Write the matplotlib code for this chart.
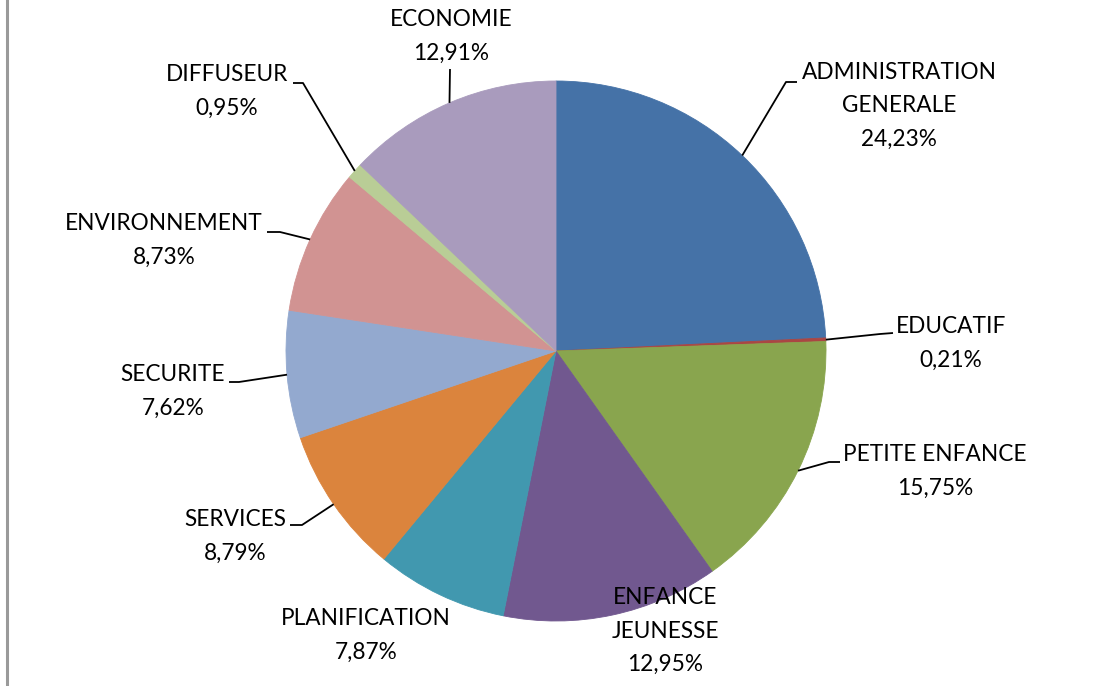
import numpy as np
import matplotlib.pyplot as plt

plt.rcParams['font.family'] = ['Lato', 'DejaVu Sans']

categories = ["ADMINISTRATION\nGENERALE", "EDUCATIF", "PETITE ENFANCE", "ENFANCE\nJEUNESSE",
              "PLANIFICATION", "SERVICES", "SECURITE", "ENVIRONNEMENT", "DIFFUSEUR", "ECONOMIE"]
shares = [24.23, 0.21, 15.75, 12.95, 7.87, 8.79, 7.62, 8.73, 0.95, 12.91]
share_labels = ["24,23%", "0,21%", "15,75%", "12,95%", "7,87%", "8,79%", "7,62%", "8,73%", "0,95%", "12,91%"]
colors = ["#4572A7", "#AA4643", "#89A54E", "#71588F", "#4198AF",
          "#DB843D", "#93A9CF", "#D19392", "#B9CD96", "#A99BBD"]

W, H = 1097, 686
cx, cy, R = 556, H - 351, 270

# label centres (pixels from top-left)
label_pos = [(899, 106), (951, 343), (935, 471), (665, 631), (366, 635),
             (235, 536), (173, 391), (164, 240), (227, 91), (451, 36)]
# leader lines: start point near text and elbow, None = no leader
leader = [((797, 82), (786, 82)), ((893, 333), (880, 334)), ((840, 462), (829, 462)), None, None,
          ((290, 525), (302, 525)), ((229, 382), (239, 382)), ((267, 232), (280, 232)),
          ((293, 83), (303, 83)), ((450, 69), (450, 69))]

fig = plt.figure(figsize=(W / 100, H / 100), dpi=100)
ax = fig.add_axes([0, 0, 1, 1])
wedges, _ = ax.pie(shares, colors=colors, startangle=90, counterclock=False,
                   center=(cx, cy), radius=R)
ax.set_xlim(0, W)
ax.set_ylim(0, H)
ax.set_aspect('equal')
ax.axis('off')

for i, w in enumerate(wedges):
    w.set_edgecolor(colors[i])
    w.set_linewidth(0.6)
    x, y = label_pos[i]
    ax.text(x, H - y, categories[i] + "\n" + share_labels[i], ha='center', va='center',
            multialignment='center', fontsize=16.3, linespacing=1.75, color='#000000')
    if leader[i] is not None:
        mid = np.deg2rad((w.theta1 + w.theta2) / 2)
        ex, ey = cx + R * np.cos(mid), cy + R * np.sin(mid)
        (sx, sy), (bx, by) = leader[i]
        ax.plot([sx, bx, ex], [H - sy, H - by, ey], color='black', lw=1.3,
                solid_capstyle='butt')

# grey frame edge on the left
ax.plot([7, 7], [0, H], color='#9a9a9a', lw=2.2)

fig.savefig("out.png", dpi=100)
